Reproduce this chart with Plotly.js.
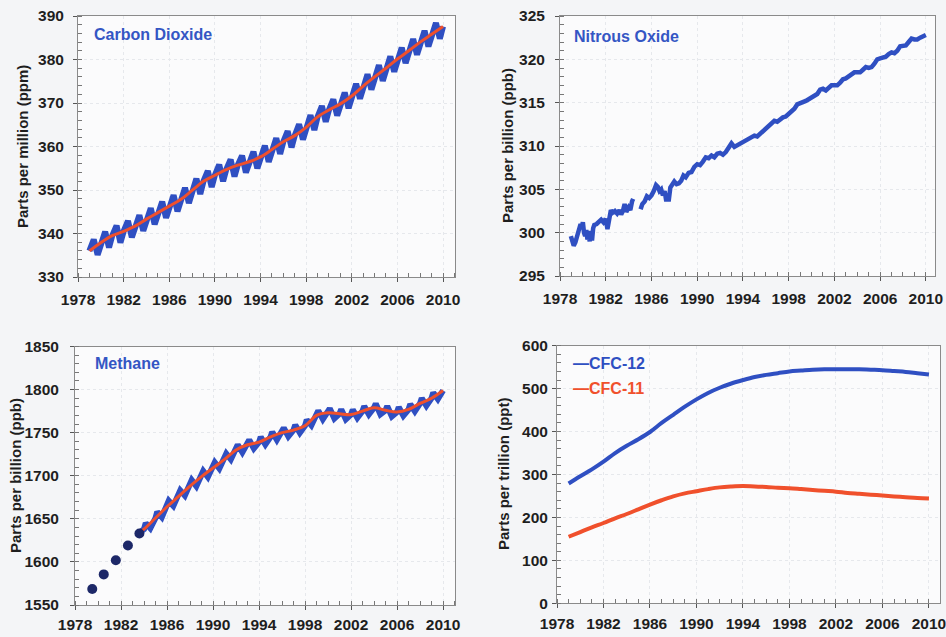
<!DOCTYPE html>
<html>
<head>
<meta charset="utf-8">
<script src="https://cdn.plot.ly/plotly-3.0.1.min.js"></script>
<style>html,body{margin:0;padding:0;background:#f4f5f7;}#chart{width:946px;height:637px;}</style>
</head>
<body>
<div id="chart"></div>
<script>
// ---------- DATA ----------
const xTickYears = [1978, 1982, 1986, 1990, 1994, 1998, 2002, 2006, 2010];

// Carbon dioxide (ppm): deseasonalised trend at 1 Jan, seasonal peak (~May) and trough (~Sep)
const co2TrendYears = [1979,1980,1981,1982,1983,1984,1985,1986,1987,1988,1989,1990,1991,1992,1993,1994,1995,1996,1997,1998,1999,2000,2001,2002,2003,2004,2005,2006,2007,2008,2009,2010];
const co2Trend = [336.0,337.9,339.5,340.5,341.7,343.3,344.8,346.3,347.8,349.9,352.0,353.4,354.7,355.7,356.5,357.6,359.3,361.1,362.5,364.4,366.8,368.4,369.8,371.6,373.9,376.0,378.0,380.1,382.0,384.0,385.8,387.6];
const co2Peak = [338.6,340.4,341.8,342.9,344.2,345.8,347.3,348.8,350.5,352.6,354.4,355.8,357.0,357.9,358.8,360.2,361.9,363.5,365.1,367.2,369.3,370.8,372.4,374.4,376.6,378.7,380.7,382.7,384.7,386.6,388.4];
const co2Trough = [335.1,336.8,337.9,339.1,340.6,342.1,343.6,345.1,347.0,349.1,350.7,352.0,353.1,354.0,355.0,356.5,358.3,359.8,361.6,363.8,365.7,367.1,368.8,371.0,373.1,375.1,377.2,379.2,381.1,383.0,384.8];

// Nitrous oxide (ppb), null marks the data gap
const n2oYears = [1978.95,1979.05,1979.2,1979.35,1979.5,1979.65,1979.8,1979.9,1980.0,1980.1,1980.2,1980.3,1980.4,1980.5,1980.6,1980.7,1980.8,1980.9,1981.0,1981.2,1981.4,1981.6,1981.8,1982.0,1982.15,1982.3,1982.45,1982.6,1982.8,1983.0,1983.2,1983.35,1983.5,1983.65,1983.8,1984.0,1984.15,1984.3,1984.4,1984.7,
  1985.05,1985.2,1985.4,1985.6,1985.8,1986.0,1986.2,1986.4,1986.55,1986.7,1986.85,1987.0,1987.15,1987.3,1987.4,1987.5,1987.65,1987.8,1988.0,1988.2,1988.4,1988.6,1988.8,1989.0,1989.25,1989.5,1989.75,
  1990.0,1990.25,1990.5,1990.75,1991.0,1991.25,1991.5,1991.75,1992.0,1992.25,1992.5,1992.75,1993.0,1993.25,1993.5,1993.75,1994.0,1994.25,1994.5,1994.75,1995.0,1995.25,1995.5,1995.75,
  1996.0,1996.25,1996.5,1996.75,1997.0,1997.25,1997.5,1997.75,1998.0,1998.25,1998.5,1998.75,1999.0,1999.25,1999.5,1999.75,2000.0,2000.25,2000.5,2000.75,
  2001.0,2001.25,2001.5,2001.75,2002.0,2002.25,2002.5,2002.75,2003.0,2003.25,2003.5,2003.75,2004.0,2004.25,2004.5,2004.75,2005.0,2005.25,2005.5,2005.75,
  2006.0,2006.25,2006.5,2006.75,2007.0,2007.25,2007.5,2007.75,2008.0,2008.25,2008.5,2008.75,2009.0,2009.25,2009.5,2009.75,2010.0];
const n2oValues = [299.6,299.2,298.5,298.9,299.6,300.4,301.0,300.6,301.2,300.0,299.6,300.3,299.2,299.8,299.0,300.2,299.1,300.5,300.9,301.0,301.2,301.5,301.2,301.6,300.4,301.9,302.6,302.3,302.5,302.2,302.6,302.1,302.5,303.3,302.4,302.9,302.6,303.6,303.9,null,
  302.7,303.3,303.6,304.2,304.0,304.3,304.8,305.5,305.3,304.8,305.0,304.3,304.8,303.6,304.5,303.6,305.2,305.6,305.9,305.6,305.7,306.0,306.6,306.4,306.9,307.0,307.6,
  307.9,307.8,308.2,308.7,308.6,308.9,308.7,309.1,309.2,309.0,309.3,309.8,310.3,309.9,310.1,310.3,310.5,310.6,310.9,311.0,311.2,311.1,311.4,311.8,
  312.1,312.3,312.7,312.9,312.8,313.1,313.3,313.4,313.7,314.1,314.3,314.8,314.9,315.0,315.2,315.4,315.6,315.8,316.0,316.5,
  316.6,316.4,316.7,317.0,317.0,317.0,317.3,317.7,317.8,318.0,318.2,318.5,318.5,318.5,318.8,319.1,319.0,319.1,319.5,320.0,
  320.1,320.2,320.3,320.6,320.8,320.7,321.0,321.5,321.5,321.6,322.0,322.4,322.3,322.3,322.5,322.6,322.8];

// Methane (ppb)
const ch4DotYears = [1979.5, 1980.5, 1981.55, 1982.6, 1983.6];
const ch4Dots = [1568.5, 1585.5, 1602, 1619, 1633];
const ch4TrendYears = [1983.6,1984,1985,1986,1987,1988,1989,1990,1991,1992,1993,1994,1995,1996,1997,1998,1999,2000,2001,2002,2003,2004,2005,2006,2007,2008,2009,2010];
const ch4Trend = [1634,1638,1651,1664,1676,1688,1699,1709,1719,1730,1736,1739,1745,1750,1753,1758,1770,1773,1772,1771,1775,1779,1776,1774,1777,1784,1790,1799];
const ch4Peak = [1645,1658,1671,1683,1695,1705.5,1715.5,1725.7,1736,1741.5,1745,1750.8,1755.5,1758.8,1764.8,1775.5,1778,1777,1776.6,1780.6,1783.5,1780.7,1779.5,1783,1789.9,1796.4];
const ch4Trough = [1639,1652,1665,1677,1688,1698.5,1708.5,1719,1727.3,1731.7,1736.3,1741.8,1745.7,1749.8,1758.6,1765.7,1766.5,1765.5,1767.2,1771.2,1771.4,1768.9,1769.7,1774.9,1781.3,1789];

// CFCs (ppt)
const cfcYears = [1979,1980,1981,1982,1983,1984,1985,1986,1987,1988,1989,1990,1991,1992,1993,1994,1995,1996,1997,1998,1999,2000,2001,2002,2003,2004,2005,2006,2007,2008,2009,2010];
const cfc12 = [279,296,312,330,350,367,382,399,420,439,458,475,490,502,512,520,527,532,536,540,542,544,545,545,545,545,544,543,541,539,536,533];
const cfc11 = [155,166,177,187,198,208,219,230,240,249,256,261,266,270,272,273,272,271,269,268,266,264,262,260,257,255,253,251,249,247,245,244];

// ---------- BUILD ----------
const BLUE = '#2f4fc2', RED = '#f0502c', NAVY = '#1d2868', TXT = '#1e1e1e';
const FONT = 'Liberation Sans, Arial, sans-serif';

function seasonal(trendYears, trend, peak, trough, startIdx, pOff, tOff) {
  const x = [], y = [];
  for (let i = 0; i < peak.length; i++) {
    const yr = trendYears[i + startIdx];
    x.push(yr); y.push(trend[i + startIdx]);
    x.push(yr + pOff); y.push(peak[i]);
    x.push(yr + tOff); y.push(trough[i]);
  }
  x.push(trendYears[trendYears.length - 1]); y.push(trend[trend.length - 1]);
  return {x, y};
}
const co2S = seasonal(co2TrendYears, co2Trend, co2Peak, co2Trough, 0, 0.38, 0.72);
const ch4S = seasonal(ch4TrendYears, ch4Trend, ch4Peak, ch4Trough, 1, 0.15, 0.55);
ch4S.x.unshift(ch4TrendYears[0]); ch4S.y.unshift(ch4Trend[0]);

const traces = [
  {x: co2S.x, y: co2S.y, xaxis: 'x', yaxis: 'y', mode: 'lines', line: {color: BLUE, width: 6}},
  {x: co2TrendYears, y: co2Trend, xaxis: 'x', yaxis: 'y', mode: 'lines', line: {color: RED, width: 3, shape: 'spline'}},
  {x: n2oYears, y: n2oValues, xaxis: 'x2', yaxis: 'y2', mode: 'lines', line: {color: BLUE, width: 4.5}, connectgaps: false},
  {x: ch4S.x, y: ch4S.y, xaxis: 'x3', yaxis: 'y3', mode: 'lines', line: {color: BLUE, width: 6}},
  {x: ch4TrendYears, y: ch4Trend, xaxis: 'x3', yaxis: 'y3', mode: 'lines', line: {color: RED, width: 3, shape: 'spline'}},
  {x: ch4DotYears, y: ch4Dots, xaxis: 'x3', yaxis: 'y3', mode: 'markers', marker: {color: NAVY, size: 10}},
  {x: cfcYears, y: cfc12, xaxis: 'x4', yaxis: 'y4', mode: 'lines', line: {color: BLUE, width: 4, shape: 'spline'}},
  {x: cfcYears, y: cfc11, xaxis: 'x4', yaxis: 'y4', mode: 'lines', line: {color: RED, width: 4, shape: 'spline'}}
];

function xax(domain, range, anchor, standoff) {
  return {domain, range, anchor, tickmode: 'array', tickvals: xTickYears, ticktext: xTickYears.map(String),
    ticks: 'outside', ticklen: 4, tickcolor: '#555', ticklabelstandoff: standoff, ticklabeloverflow: 'allow',
    minor: {ticks: 'inside', ticklen: 4, dtick: 1, tick0: 1978, tickcolor: '#777', showgrid: false},
    showline: true, linecolor: '#8a8a8a', linewidth: 1, mirror: true,
    showgrid: true, gridcolor: '#e6e8ec', griddash: 'dot', zeroline: false,
    tickfont: {family: FONT, size: 15.5, color: TXT, weight: 'bold'}, fixedrange: true};
}
function yax(domain, range, dtick, minorD, anchor, standoff) {
  return {domain, range, anchor, dtick, tick0: range[0],
    ticks: 'outside', ticklen: 4, tickcolor: '#555', ticklabelstandoff: standoff, ticklabeloverflow: 'allow',
    minor: {ticks: 'inside', ticklen: 4, dtick: minorD, tickcolor: '#777', showgrid: false},
    showline: true, linecolor: '#8a8a8a', linewidth: 1, mirror: true,
    showgrid: true, gridcolor: '#e6e8ec', griddash: 'dot', zeroline: false,
    tickfont: {family: FONT, size: 15.5, color: TXT, weight: 'bold'}, fixedrange: true};
}

const W = 946, H = 637;
const px = v => v / W, py = v => 1 - v / H;

function lab(text, x, y, color, size, angle) {
  return {text: '<b>' + text + '</b>', xref: 'paper', yref: 'paper', x: px(x), y: py(y),
    xanchor: angle ? 'center' : 'left', yanchor: 'middle', showarrow: false, textangle: angle || 0,
    font: {family: FONT, size: size, color: color}};
}

const layout = {
  width: W, height: H, margin: {l: 0, r: 0, t: 0, b: 0},
  paper_bgcolor: '#f4f5f7', plot_bgcolor: '#fbfbfc', showlegend: false,
  xaxis: xax([px(78), px(455)], [1978, 2011.05], 'y', 4),
  yaxis: yax([py(277), py(16)], [330, 390], 10, 2, 'x', 6),
  xaxis2: xax([px(560), px(935)], [1978, 2010.8], 'y2', 4),
  yaxis2: yax([py(276), py(16)], [295, 325], 5, 1, 'x2', 7),
  xaxis3: xax([px(75), px(455)], [1978, 2011.04], 'y3', 1),
  yaxis3: yax([py(605), py(346.5)], [1550, 1850], 50, 10, 'x3', 8),
  xaxis4: xax([px(557), px(940)], [1978, 2010.95], 'y4', 2),
  yaxis4: yax([py(603.3), py(345.7)], [0, 600], 100, 20, 'x4', 1),
  annotations: [
    lab('Carbon Dioxide', 92, 34, '#3456c4', 16),
    lab('Nitrous Oxide', 572, 36, '#3456c4', 16),
    lab('Methane', 93, 363, '#3456c4', 16),
    lab('—CFC-12', 571, 363, BLUE, 16),
    lab('—CFC-11', 571, 388, RED, 16),
    lab('Parts per million (ppm)', 22, 147, TXT, 15, -90),
    lab('Parts per billion (ppb)', 507, 145, TXT, 15, -90),
    lab('Parts per billion (ppb)', 15, 476, TXT, 15, -90),
    lab('Parts per trillion (ppt)', 503, 474, TXT, 15, -90)
  ]
};

Plotly.newPlot('chart', traces, layout, {staticPlot: true, displayModeBar: false});
</script>
</body>
</html>
